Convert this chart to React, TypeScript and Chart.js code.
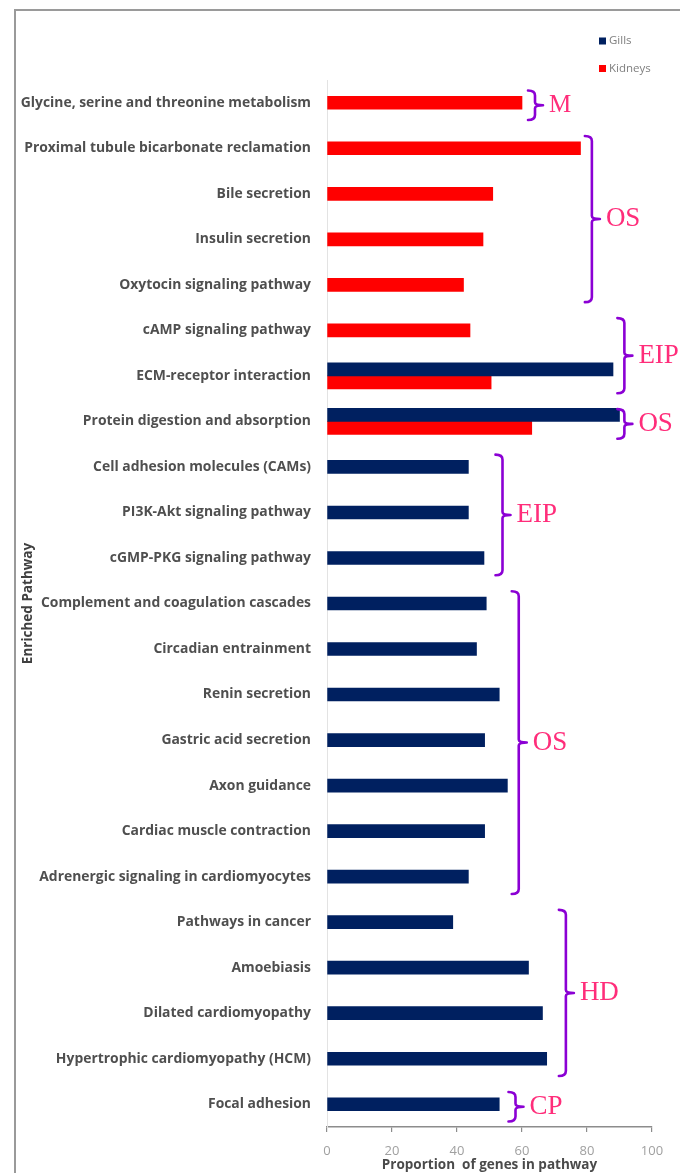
import React, { useEffect, useRef } from "react";
import { Chart, registerables } from "chart.js";

Chart.register(...registerables);

const categories = [
  "Glycine, serine and threonine metabolism",
  "Proximal tubule bicarbonate reclamation",
  "Bile secretion",
  "Insulin secretion",
  "Oxytocin signaling pathway",
  "cAMP signaling pathway",
  "ECM-receptor interaction",
  "Protein digestion and absorption",
  "Cell adhesion molecules (CAMs)",
  "PI3K-Akt signaling pathway",
  "cGMP-PKG signaling pathway",
  "Complement and coagulation cascades",
  "Circadian entrainment",
  "Renin secretion",
  "Gastric acid secretion",
  "Axon guidance",
  "Cardiac muscle contraction",
  "Adrenergic signaling in cardiomyocytes",
  "Pathways in cancer",
  "Amoebiasis",
  "Dilated cardiomyopathy",
  "Hypertrophic cardiomyopathy (HCM)",
  "Focal adhesion",
];

const gills = [
  null, null, null, null, null, null, 88, 90, 43.5, 43.5, 48.3, 49, 46, 53,
  48.5, 55.5, 48.5, 43.5, 38.7, 62, 66.3, 67.6, 53,
];

const kidneys = [
  60, 78, 51, 48, 42, 44, 50.5, 63, null, null, null, null, null, null, null,
  null, null, null, null, null, null, null, null,
];

const xTicks = [0, 20, 40, 60, 80, 100];

// Bracket annotations: label, first category, last category, x value of brace
const bracketLabels = ["M", "OS", "EIP", "OS", "EIP", "OS", "HD", "CP"];
const bracketStart = [0, 1, 5, 7, 8, 11, 18, 22];
const bracketEnd = [0, 4, 6, 7, 10, 17, 21, 22];
const bracketX = [64, 81.5, 91.5, 91.5, 54, 59, 73.5, 58];

const GILLS_COLOR = "#002060";
const KIDNEY_COLOR = "#FF0000";
const BRACE_COLOR = "#8B00D4";
const BRACE_TEXT = "#FF2D7A";
const FONT = "'Open Sans'";

const decorPlugin = {
  id: "decor",
  afterDraw(chart: any) {
    const ctx = chart.ctx as CanvasRenderingContext2D;
    const xs = chart.scales.x;
    const ys = chart.scales.y;
    ctx.save();
    // frame
    ctx.strokeStyle = "#9a9a9a";
    ctx.lineWidth = 2;
    ctx.beginPath();
    ctx.moveTo(15, 1300);
    ctx.lineTo(15, 10);
    ctx.lineTo(800, 10);
    ctx.stroke();

    // legend
    const items = chart.data.datasets.map((d: any) => ({
      label: d.label,
      color: d.backgroundColor,
    }));
    ctx.font = "11.5px " + FONT;
    ctx.textBaseline = "middle";
    ctx.textAlign = "left";
    items.forEach((it: any, i: number) => {
      const y = 41 + i * 27.5;
      ctx.fillStyle = it.color;
      ctx.fillRect(599, y - 3.5, 7, 7);
      ctx.fillStyle = "#7f7f7f";
      ctx.fillText(it.label, 609, y);
    });

    // brackets
    const band = ys.getPixelForValue(1) - ys.getPixelForValue(0);
    ctx.lineCap = "round";
    ctx.lineJoin = "round";
    bracketLabels.forEach((lab, i) => {
      const x = xs.getPixelForValue(bracketX[i]);
      const top = ys.getPixelForValue(bracketStart[i]) - 0.27 * band;
      const bot = ys.getPixelForValue(bracketEnd[i]) + 0.38 * band;
      const mid = (top + bot) / 2;
      const hook = 7;
      const r = 5;
      const tip = 8;
      ctx.strokeStyle = BRACE_COLOR;
      ctx.lineWidth = 2.6;
      ctx.beginPath();
      ctx.moveTo(x - hook, top);
      ctx.quadraticCurveTo(x, top, x, top + r);
      ctx.lineTo(x, mid - 3);
      ctx.quadraticCurveTo(x, mid, x + tip, mid);
      ctx.quadraticCurveTo(x, mid, x, mid + 3);
      ctx.lineTo(x, bot - r);
      ctx.quadraticCurveTo(x, bot, x - hook, bot);
      ctx.stroke();
      ctx.fillStyle = BRACE_TEXT;
      ctx.font = (lab === "M" ? "25px" : "27px") + " 'Liberation Serif'";
      ctx.textAlign = "left";
      ctx.textBaseline = "middle";
      ctx.fillText(lab, x + 14, mid);
    });
    ctx.restore();
  },
};

export default function App() {
  const ref = useRef<HTMLCanvasElement | null>(null);
  useEffect(() => {
    document.body.style.margin = "0";
    if (!ref.current) return;
    const chart = new Chart(ref.current, {
      type: "bar",
      data: {
        labels: categories,
        datasets: [
          {
            label: "Gills",
            data: gills as any,
            backgroundColor: GILLS_COLOR,
            barThickness: 13,
          },
          {
            label: "Kidneys",
            data: kidneys as any,
            backgroundColor: KIDNEY_COLOR,
            barThickness: 13,
          },
        ],
      },
      options: {
        indexAxis: "y",
        animation: false,
        responsive: true,
        maintainAspectRatio: false,
        skipNull: true,
        layout: { padding: { top: 80, right: 28, left: 0, bottom: 0 } },
        plugins: {
          legend: { display: false },
          tooltip: { enabled: false },
        },
        scales: {
          x: {
            min: 0,
            max: 100,
            afterBuildTicks(scale: any) {
              scale.ticks = xTicks.map((v) => ({ value: v }));
            },
            afterFit(scale: any) {
              scale.height = 46;
            },
            grid: {
              drawOnChartArea: false,
              drawTicks: true,
              tickLength: 5,
              tickColor: "#8c8c8c",
              lineWidth: 1.2,
            },
            border: { display: true, color: "#8c8c8c", width: 1.5 },
            ticks: {
              color: "#a0a0a0",
              font: { family: FONT, size: 13 },
              padding: 11,
            },
            title: {
              display: true,
              text: "Proportion  of genes in pathway",
              color: "#4a4a4a",
              font: { family: FONT, size: 13.5, weight: "bold" },
              padding: { top: 0, bottom: 0 },
            },
          },
          y: {
            afterFit(scale: any) {
              scale.width = 327;
            },
            grid: { display: false, drawTicks: false },
            border: { display: true, color: "#e3e3e3", width: 1 },
            ticks: {
              color: "#4f4f4f",
              font: { family: FONT, size: 13.9, weight: "bold" },
              padding: 16,
              autoSkip: false,
            },
            title: {
              display: true,
              text: "Enriched Pathway",
              color: "#404040",
              font: { family: FONT, size: 13.5, weight: "bold" },
              padding: { top: 20, bottom: 0 },
            },
          },
        },
      } as any,
      plugins: [decorPlugin],
    });
    return () => chart.destroy();
  }, []);
  return (
    <div style={{ position: "relative", width: 680, height: 1173 }}>
      <canvas ref={ref} />
    </div>
  );
}
